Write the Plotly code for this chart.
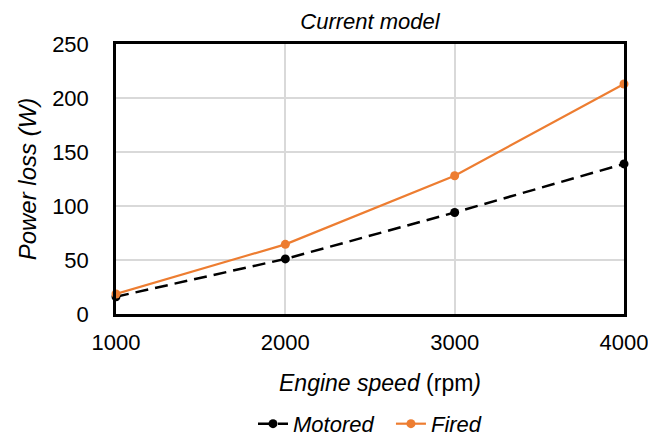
import plotly.graph_objects as go

# data
engine_speed = [1000, 2000, 3000, 4000]
motored = [16, 51, 94, 139]
fired = [18.5, 64.5, 128, 213]

FONT = "Liberation Sans, Arial, sans-serif"
ORANGE = "#ed7d31"

fig = go.Figure()
fig.add_trace(go.Scatter(
    x=engine_speed, y=motored, name="<i>Motored</i>\u00a0\u00a0", mode="lines+markers",
    line=dict(color="black", width=2.5, dash="13px,7px"),
    marker=dict(color="black", size=9),
    cliponaxis=False,
))
fig.add_trace(go.Scatter(
    x=engine_speed, y=fired, name="<i>Fired</i>", mode="lines+markers",
    line=dict(color=ORANGE, width=2.2),
    marker=dict(color=ORANGE, size=9),
    cliponaxis=False,
))

fig.update_layout(
    width=648, height=437,
    margin=dict(l=116, r=24, t=44, b=123, autoexpand=False),
    paper_bgcolor="white", plot_bgcolor="white",
    font=dict(family=FONT, color="black", size=22),
    title=dict(text="<i>Current model</i>", xref="paper", x=0.5, xanchor="center",
               y=0.952, yanchor="middle", font=dict(size=22)),
    showlegend=True,
    legend=dict(orientation="h", x=0.5, xanchor="center",
                yref="container", y=0.03, yanchor="middle",
                font=dict(size=22), traceorder="normal"),
)

# x axis title sits a little right of centre in the reference
fig.add_annotation(
    text="<i>Engine speed </i>(rpm<i>)</i>", showarrow=False,
    xref="paper", yref="paper", x=0.52, y=-0.256,
    xanchor="center", yanchor="middle", font=dict(size=23),
)

fig.update_xaxes(
    range=[1000, 4000], tickvals=[1000, 2000, 3000, 4000],
    showgrid=True, gridcolor="#d9d9d9", gridwidth=1.5,
    showline=True, linecolor="black", linewidth=2.5, mirror=True,
    ticks="", ticklabelstandoff=7, ticklabeloverflow="allow", zeroline=False,
)
fig.update_yaxes(
    range=[0, 250], tickvals=[0, 50, 100, 150, 200, 250],
    showgrid=True, gridcolor="#d9d9d9", gridwidth=1.5,
    showline=True, linecolor="black", linewidth=2.5, mirror=True,
    ticks="", ticklabelstandoff=20, ticklabeloverflow="allow", zeroline=False,
    title=dict(text="<i>Power loss (W)</i>", standoff=9, font=dict(size=24)),
)

# drop the default page margin so the figure sits at the window corner
fig.write_html("out.html", config={"displayModeBar": False},
               post_script="document.body.style.margin='0';")
